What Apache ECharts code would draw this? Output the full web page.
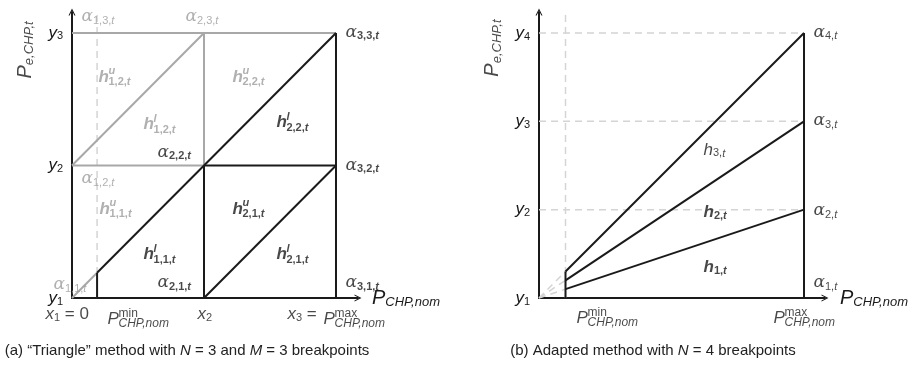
<!DOCTYPE html>
<html style="height: 100%">
<head>
    <meta charset="utf-8">
    <title>CHP breakpoints</title>
</head>
<body style="height: 100%; margin: 0; background: #fff">
<div id="container" style="width: 915px; height: 370px"></div>
<script type="text/javascript" src="https://cdn.jsdelivr.net/npm/echarts@6/dist/echarts.min.js"></script>
<script type="text/javascript">
    // (a) triangle method: breakpoints x1..x3, y1..y3
    var xBreaks = [0, 1, 2];
    var yBreaks = [0, 1, 2];
    var pMinA = 0.19;          // P_CHP,nom^min on the x scale of (a)
    var cutA = 0.19;           // where the first diagonal crosses P^min
    var yTicksA = ['1', '2', '3'];

    // (b) adapted method: y1..y4
    var yLevelsB = [0, 1, 2, 3];
    var yTicksB = ['1', '2', '3', '4'];
    var pMinB = 0.1, pMaxB = 1;
    var startB = [0.1, 0.2, 0.3];   // line values at P^min (to alpha2, alpha3, alpha4)

    var F = 'Liberation Sans, Arial, sans-serif';
    var BLACK = '#1a1a1a', GRAY = '#9c9c9c', LIGHT = '#d4d4d4';
    var axMaxA = [2.1667, 2.158], axMaxB = [1.0792, 3.238];

    function st(size, lh, italic, bold, va, fam) {
        var o = {fontFamily: fam || F, fontSize: size, lineHeight: lh,
            fontStyle: italic ? 'italic' : 'normal', fontWeight: bold ? 'bold' : 'normal'};
        if (va) o.verticalAlign = va;
        return o;
    }
    var rich = {
        al: st(17, 18, true, false, null, 'DejaVu Serif'),
        h: st(17, 18, true, false), hb: st(17, 18, true, true),
        s: st(11, 10, false, false, 'bottom'), si: st(11, 10, true, false, 'bottom'),
        sb: st(11, 10, false, true, 'bottom'), sbi: st(11, 10, true, true, 'bottom'),
        up: st(11, 11, true, false), upb: st(11, 11, true, true),
        dn: st(11, 11, false, false), dni: st(11, 11, true, false),
        dnb: st(11, 11, false, true), dnbi: st(11, 11, true, true),
        P: st(17, 20, true, false),
        mm: st(12, 10, false, false),
        cn: st(12, 11, true, false),
        x: st(17, 18, true, false), eq: st(17, 18, false, false),
        Pn: st(20, 22, true, false), Ps: st(13, 12, true, false, 'bottom')
    };

    // subscript text, trailing "t" in italic
    function scr(t, base, bold) {
        var m = t.match(/^(.*?)(t?)$/), b = bold ? 'b' : '', out = '';
        if (m[1]) out += '{' + base + b + '|' + m[1] + '}';
        if (m[2]) out += '{' + base + b + 'i|' + m[2] + '}';
        return out;
    }
    function alpha(pos, idx, dark, color) {
        return {value: pos, label: {formatter: '{al|α}' + scr(idx, 's', dark), color: color || (dark ? BLACK : GRAY)}};
    }
    function hOne(pos, idx, bold) {
        return {value: pos, label: {formatter: '{' + (bold ? 'hb' : 'h') + '|h}' + scr(idx, 's', bold), color: BLACK}};
    }
    function hTwo(pos, up, idx, dark) {
        var c = dark ? BLACK : GRAY;
        return [{value: pos, label: {formatter: '{hb|h}', color: c}},
            {value: pos, label: {formatter: '{upb|' + up + '}\n' + scr(idx, 'dn', true), offset: [10, 0], color: c}}];
    }
    function pLab(pos, mm) {
        return [{value: pos, label: {formatter: '{P|P}'}},
            {value: pos, label: {formatter: '{mm|' + mm + '}\n{cn|CHP,nom}', offset: [11, 0]}}];
    }
    function yName(pos) {
        return {value: pos, label: {position: 'inside', rotate: 90, formatter: '{Pn|P}{Ps|e,CHP,t}'}};
    }

    var labelsA = [
        alpha([0.068, 2.12], '1,3,t', false),
        alpha([0.856, 2.12], '2,3,t', false),
        alpha([2.068, 2.0], '3,3,t', true),
        alpha([0.644, 1.10], '2,2,t', true),
        alpha([0.068, 0.898], '1,2,t', false),
        alpha([2.068, 1.0], '3,2,t', true),
        alpha([-0.144, 0.098], '1,1,t', false),
        alpha([0.644, 0.113], '2,1,t', true),
        alpha([2.068, 0.113], '3,1,t', true),
        {value: [-0.205, -0.121], label: {formatter: '{x|x}{s|1}{eq| = 0}'}},
        {value: [0.947, -0.121], label: {formatter: '{x|x}{s|2}'}},
        {value: [1.629, -0.121], label: {formatter: '{x|x}{s|3}{eq| =}'}},
        yName([-0.356, 1.872])
    ].concat(
        hTwo([0.197, 1.668], 'u', '1,2,t', false),
        hTwo([0.538, 1.313], 'l', '1,2,t', false),
        hTwo([1.212, 1.668], 'u', '2,2,t', false),
        hTwo([1.545, 1.328], 'l', '2,2,t', true),
        hTwo([0.205, 0.672], 'u', '1,1,t', false),
        hTwo([0.538, 0.332], 'l', '1,1,t', true),
        hTwo([1.212, 0.672], 'u', '2,1,t', true),
        hTwo([1.545, 0.332], 'l', '2,1,t', true),
        pLab([0.265, -0.158], 'min'),
        pLab([1.902, -0.158], 'max')
    );

    var labelsB = [
        alpha([1.034, 3.01], '4,t', false, BLACK),
        alpha([1.034, 2.004], '3,t', false, BLACK),
        alpha([1.034, 0.985], '2,t', false, BLACK),
        alpha([1.034, 0.17], '1,t', false, BLACK),
        hOne([0.619, 1.676], '3,t', false),
        hOne([0.619, 0.974], '2,t', true),
        hOne([0.619, 0.351], '1,t', true),
        yName([-0.174, 2.83])
    ].concat(pLab([0.14, -0.226], 'min'), pLab([0.883, -0.226], 'max'));

    // segments of (a)
    var x1 = xBreaks[0], x2 = xBreaks[1], x3 = xBreaks[2];
    var y1 = yBreaks[0], y2 = yBreaks[1], y3 = yBreaks[2];
    var dashA = [[[pMinA, y1], [pMinA, axMaxA[1]]]];
    var grayA = [
        [[x1, y3], [x3, y3]], [[x1, y2], [x2, y2]], [[x2, y2], [x2, y3]],
        [[x1, y2], [x2, y3]], [[x1, y1], [pMinA, cutA]]
    ];
    var blackA = [
        [[pMinA, y1], [pMinA, cutA]], [[pMinA, cutA], [x2, y2]], [[x2, y1], [x2, y2]],
        [[x2, y2], [x3, y2]], [[x2, y1], [x3, y2]], [[x2, y2], [x3, y3]], [[x3, y1], [x3, y3]]
    ];

    // segments of (b)
    var dashB = [[[pMinB, 0], [pMinB, axMaxB[1]]]];
    var blackB = [[[pMinB, 0], [pMinB, startB[2]]], [[pMaxB, 0], [pMaxB, yLevelsB[3]]]];
    for (var i = 1; i < yLevelsB.length; i++) {
        dashB.push([[0, yLevelsB[i]], [pMaxB, yLevelsB[i]]]);
        dashB.push([[0, 0], [pMinB, startB[i - 1]]]);
        blackB.push([[pMinB, startB[i - 1]], [pMaxB, yLevelsB[i]]]);
    }

    function segs(list, idx, color, width, type) {
        return list.map(function (p) {
            return {type: 'line', xAxisIndex: idx, yAxisIndex: idx, data: p, symbol: 'none', silent: true,
                lineStyle: {color: color, width: width, type: type || 'solid'}};
        });
    }
    function labelSeries(idx, items) {
        return {type: 'scatter', xAxisIndex: idx, yAxisIndex: idx, data: items, symbolSize: 1, silent: true, clip: false,
            itemStyle: {color: 'rgba(0,0,0,0)'}, z: 10,
            label: {show: true, position: 'right', distance: 0, color: BLACK, rich: rich, fontFamily: F, fontSize: 14}};
    }

    var arrow = 'path://M0,10 L5,0 L10,10 L8.4,10 L5,3.2 L1.6,10 Z';
    function xAx(idx, max, gap) {
        return {gridIndex: idx, type: 'value', min: 0, max: max,
            axisLine: {lineStyle: {color: BLACK, width: 2}, symbol: ['none', arrow], symbolSize: [9, 7]},
            axisTick: {show: false}, axisLabel: {show: false}, splitLine: {show: false},
            name: '{Pn|P}{Ps|CHP,nom}', nameLocation: 'end', nameGap: gap,
            nameTextStyle: {color: BLACK, rich: rich}};
    }
    function yAx(idx, max, ticks) {
        return {gridIndex: idx, type: 'value', min: 0, max: max, interval: 1,
            axisLine: {show: true, lineStyle: {color: BLACK, width: 2}, symbol: ['none', arrow], symbolSize: [9, 7]},
            axisTick: {show: false}, splitLine: {show: false},
            axisLabel: {margin: 9, showMaxLabel: false, color: BLACK, rich: rich,
                formatter: function (v) { return ticks[v] ? '{x|y}{s|' + ticks[v] + '}' : ''; }}};
    }

    var dom = document.getElementById('container');
    var myChart = echarts.init(dom);
    var option = {
        backgroundColor: '#fff',
        animation: false,
        title: [
            {text: '(a) “Triangle” method with {i|N} = 3 and {i|M} = 3 breakpoints', left: 187, top: 343, textAlign: 'center', padding: 0,
                textStyle: {fontFamily: F, fontSize: 15, fontWeight: 'normal', color: '#222', rich: {i: {fontFamily: F, fontSize: 15, fontStyle: 'italic'}}}},
            {text: '(b) Adapted method with {i|N} = 4 breakpoints', left: 653, top: 343, textAlign: 'center', padding: 0,
                textStyle: {fontFamily: F, fontSize: 15, fontWeight: 'normal', color: '#222', rich: {i: {fontFamily: F, fontSize: 15, fontStyle: 'italic'}}}}
        ],
        grid: [
            {left: 72, top: 12, width: 286, height: 286, outerBoundsMode: 'none'},
            {left: 539, top: 12, width: 286, height: 286, outerBoundsMode: 'none'}
        ],
        xAxis: [xAx(0, axMaxA[0], 14), xAx(1, axMaxB[0], 15)],
        yAxis: [yAx(0, axMaxA[1], yTicksA), yAx(1, axMaxB[1], yTicksB)],
        series: [].concat(
            segs(dashA, 0, LIGHT, 1.5, [7, 5]),
            segs(grayA, 0, '#a8a8a8', 2),
            segs(blackA, 0, BLACK, 2),
            segs(dashB, 1, LIGHT, 1.5, [7, 5]),
            segs(blackB, 1, BLACK, 2),
            [labelSeries(0, labelsA), labelSeries(1, labelsB)]
        )
    };
    myChart.setOption(option, true);
</script>
</body>
</html>
